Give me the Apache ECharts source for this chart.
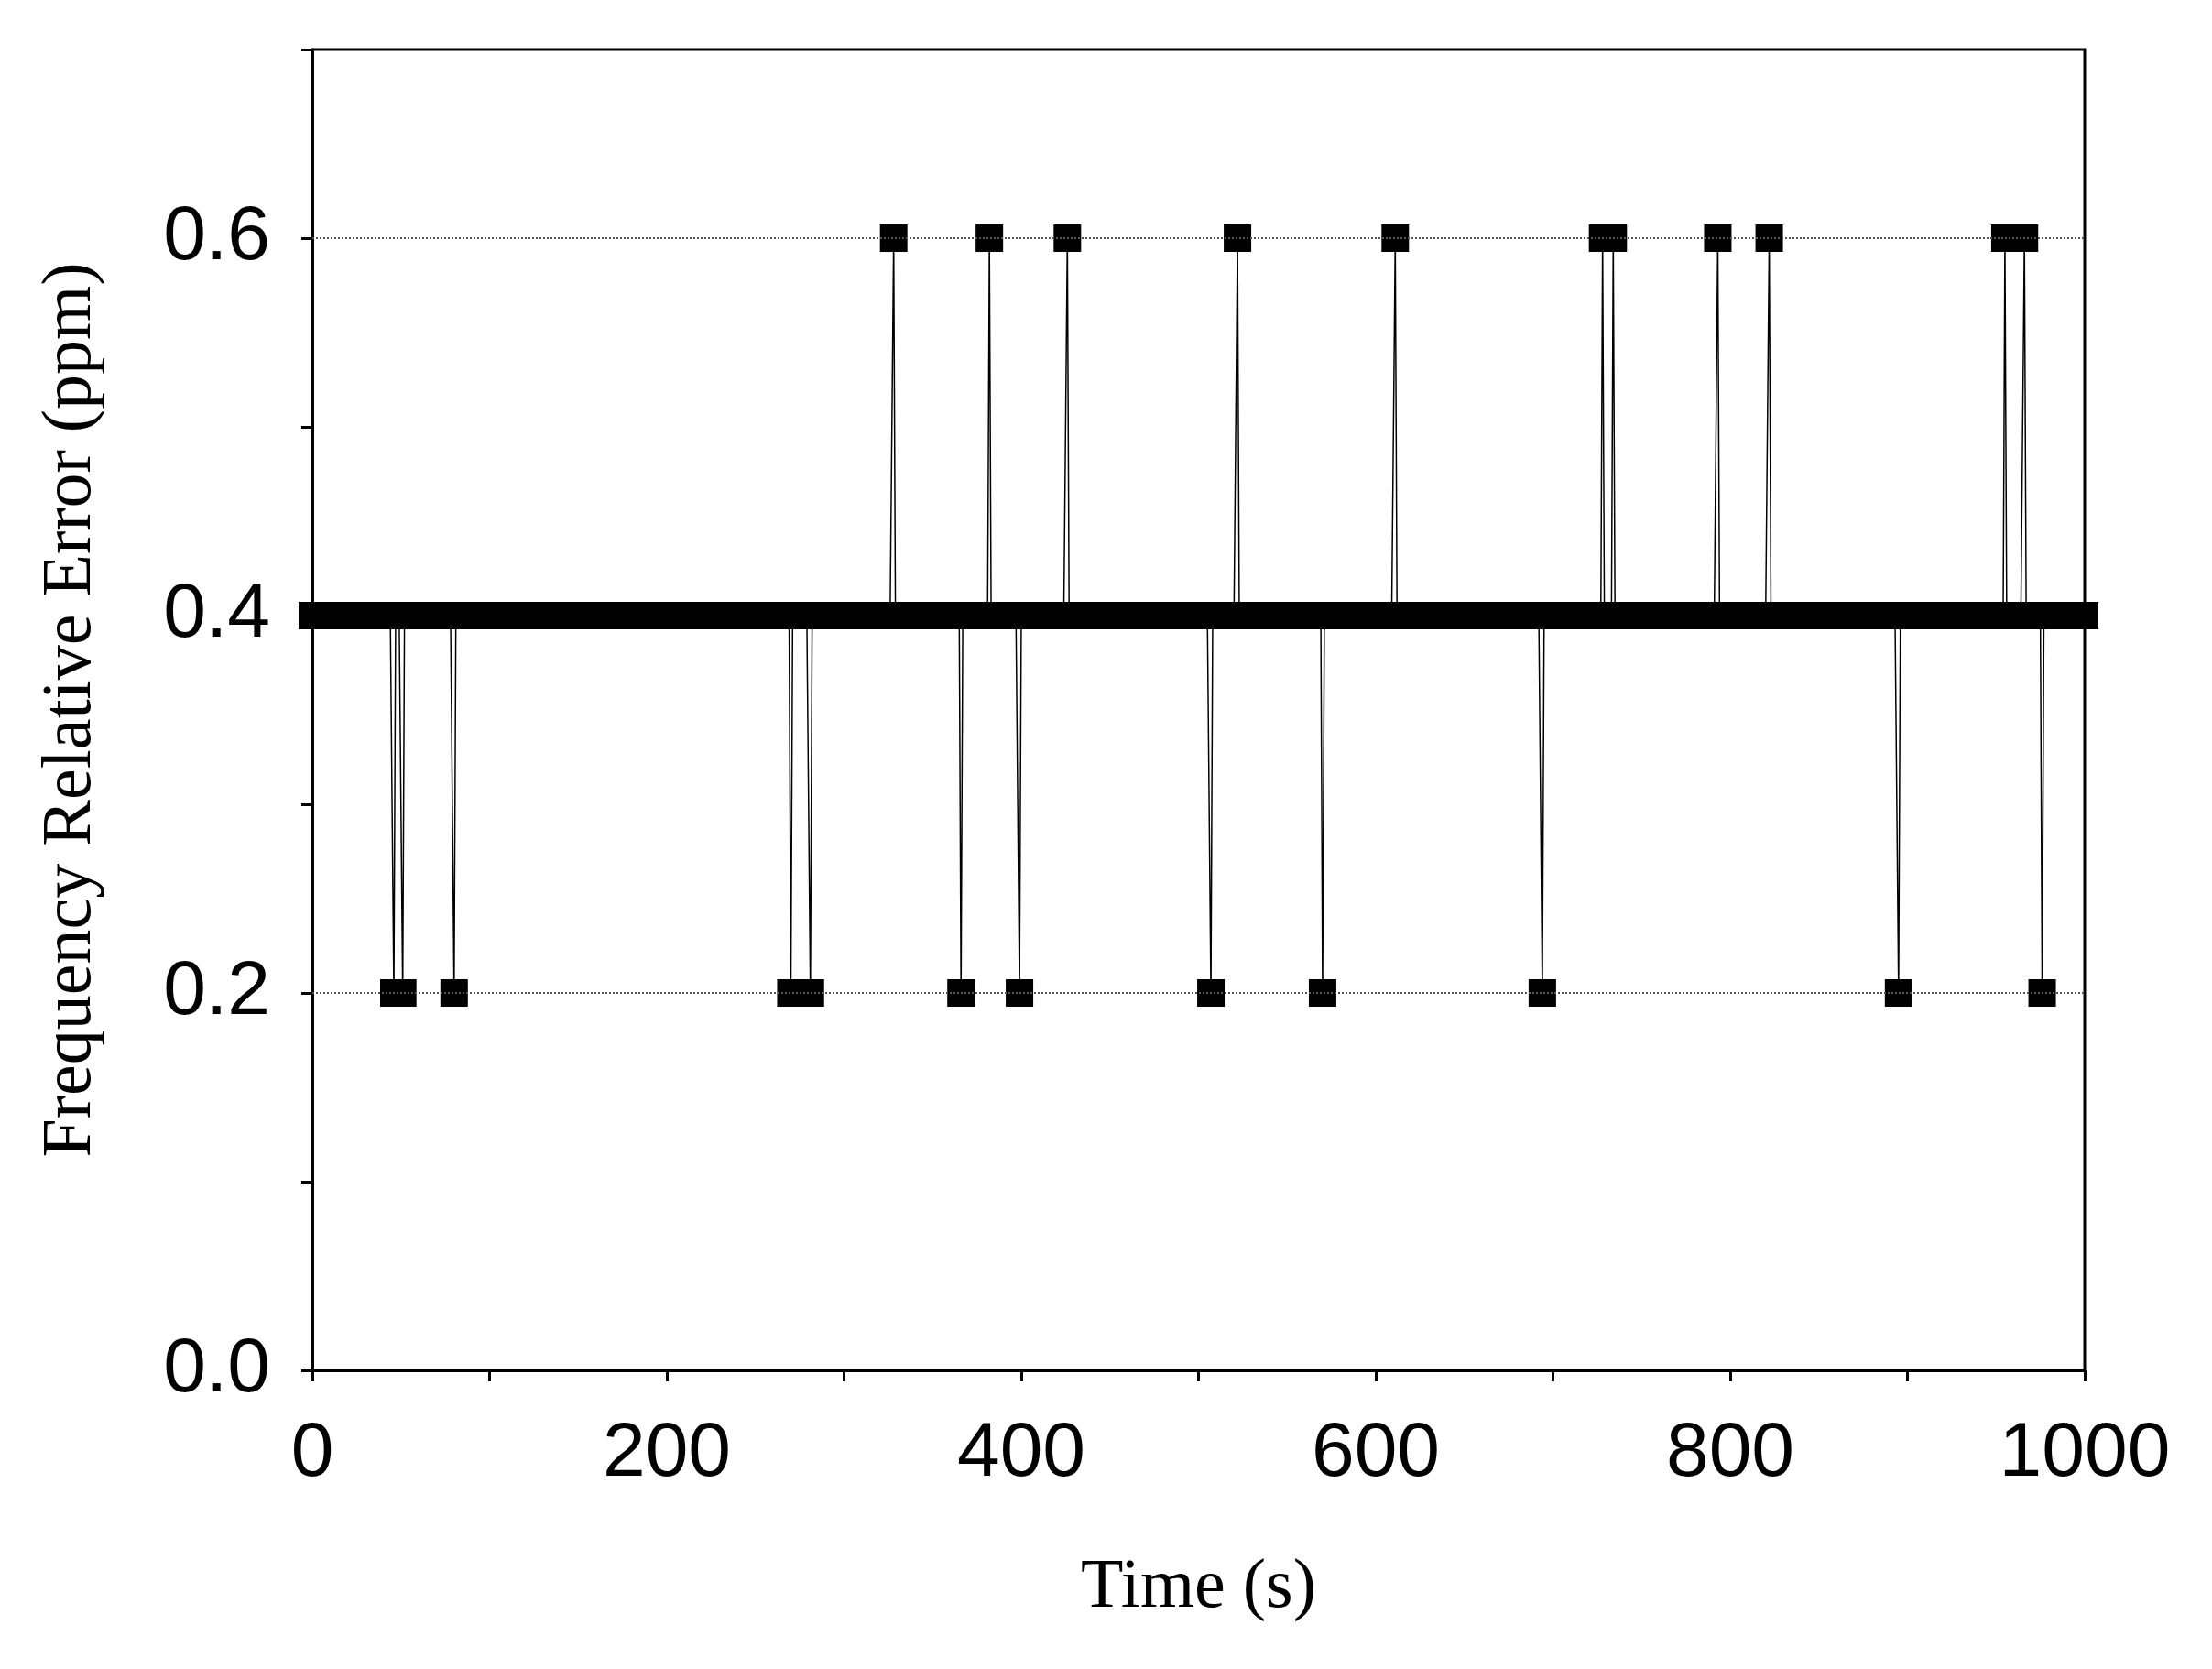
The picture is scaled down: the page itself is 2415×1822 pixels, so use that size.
<!DOCTYPE html>
<html><head><meta charset="utf-8">
<script src="https://cdn.jsdelivr.net/npm/echarts@6/dist/echarts.min.js"></script>
<style>html,body{margin:0;background:#fff}#c{width:2415px;height:1822px}</style>
</head><body><div id="c"></div>
<script>
// sampling: one reading per second, 0..1000 s
var tStart = 0, tEnd = 1000, tStep = 1;
var baseLevel = 0.4;
var highTimes = [328, 382, 426, 522, 611, 728, 734, 793, 822, 955, 966];
var highLevel = 0.6;
var lowTimes = [46, 51, 80, 270, 281, 366, 399, 507, 570, 694, 895, 976];
var lowLevel = 0.2;
var xTicks = [0, 200, 400, 600, 800, 1000];
var yTicks = [0.0, 0.2, 0.4, 0.6];
var gridLevels = [0.2, 0.6];

var data = [];
for (var t = tStart; t <= tEnd; t += tStep) {
	var v = baseLevel;
	if (highTimes.indexOf(t) >= 0) v = highLevel;
	if (lowTimes.indexOf(t) >= 0) v = lowLevel;
	data.push([t, v]);
}

var chart = echarts.init(document.getElementById('c'));
chart.setOption({
	animation: false,
	grid: {left: 341, right: 139, top: 54, bottom: 326, show: true, borderColor: '#000', borderWidth: 3},
	xAxis: {
		type: 'value', min: 0, max: 1000, interval: 100,
		name: 'Time (s)', nameLocation: 'middle', nameGap: 200,
		nameTextStyle: {fontFamily: 'Liberation Serif', fontSize: 76, color: '#000'},
		axisLine: {lineStyle: {color: '#000', width: 3}},
		axisTick: {show: true, length: 12, lineStyle: {color: '#000', width: 3}},
		axisLabel: {fontFamily: 'Liberation Sans', fontSize: 84, color: '#000', margin: 50,
			formatter: function (v) { return xTicks.indexOf(v) >= 0 ? v : ''; }},
		splitLine: {show: false}
	},
	yAxis: {
		type: 'value', min: 0, max: 0.7, interval: 0.1,
		name: 'Frequency Relative Error (ppm)', nameLocation: 'middle', nameGap: 225,
		nameTextStyle: {fontFamily: 'Liberation Serif', fontSize: 76, color: '#000'},
		axisLine: {lineStyle: {color: '#000', width: 3}},
		axisTick: {show: true, length: 12, lineStyle: {color: '#000', width: 3}},
		axisLabel: {fontFamily: 'Liberation Sans', fontSize: 84, color: '#000', margin: 46,
			formatter: function (v) {
				var r = Math.round(v * 10) / 10;
				return yTicks.indexOf(r) >= 0 ? r.toFixed(1) : '';
			}},
		splitLine: {show: false}
	},
	series: [{
		type: 'line', data: data, showAllSymbol: true,
		symbol: 'rect', symbolSize: 30, z: 3,
		itemStyle: {color: '#000'},
		lineStyle: {color: '#000', width: 1.5}
	}, {
		type: 'line', data: [], silent: true, z: 1,
		markLine: {
			symbol: 'none', silent: true, label: {show: false},
			lineStyle: {color: '#555', type: 'dotted', width: 2},
			data: gridLevels.map(function (g) { return {yAxis: g}; })
		}
	}]
});
</script></body></html>
